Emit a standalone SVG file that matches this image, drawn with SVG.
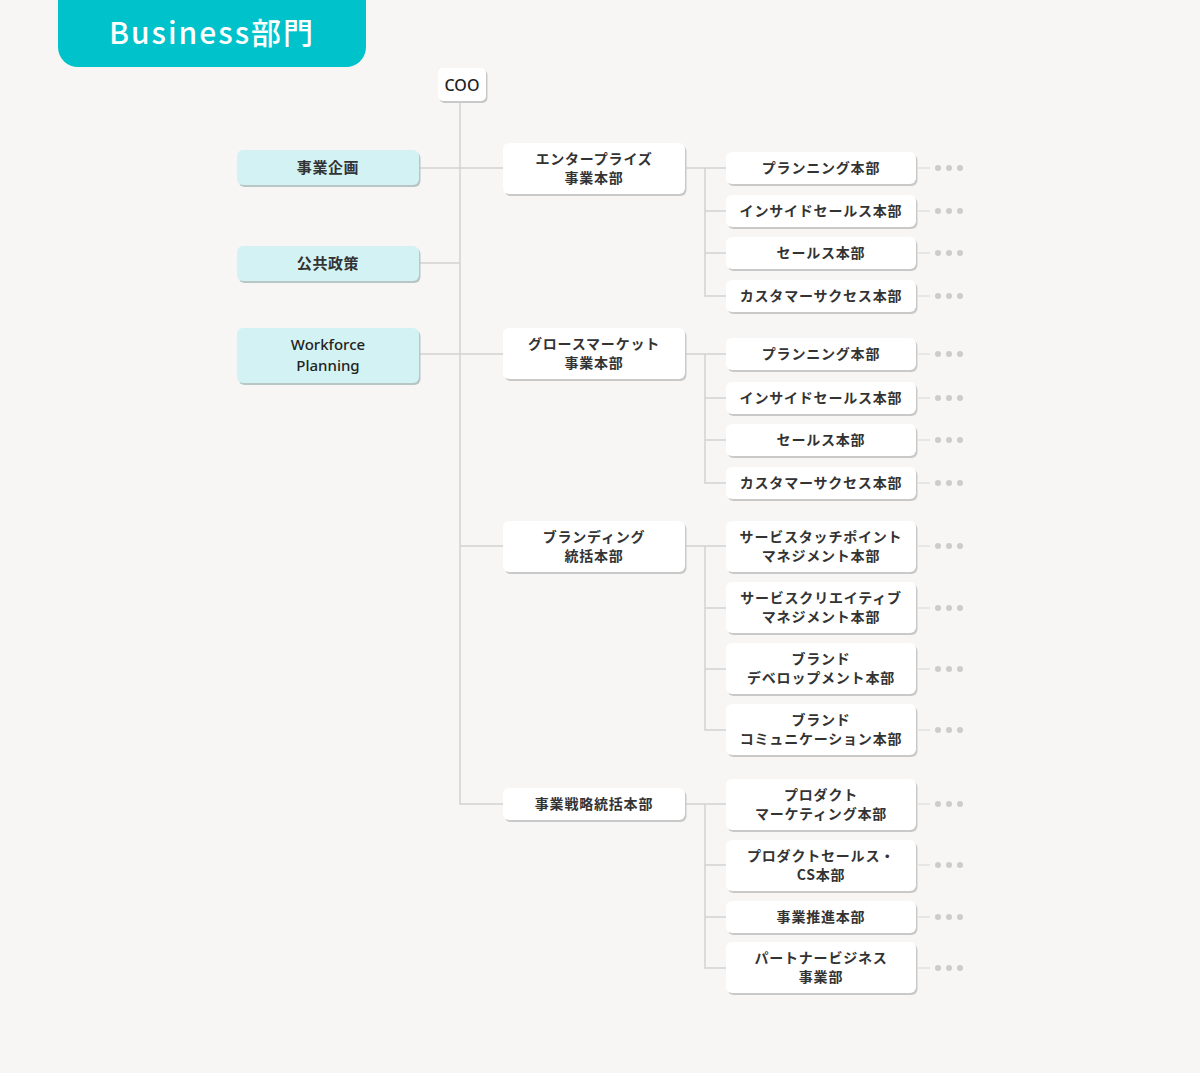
<svg xmlns="http://www.w3.org/2000/svg" width="1200" height="1073" viewBox="0 0 1200 1073">
<style>
.bg{fill:#F7F6F4}
.hdr{fill:#00C2CB}
.ht{font-family:"Noto Sans CJK JP","Noto Sans",sans-serif;font-size:30px;font-weight:500;fill:#ffffff;letter-spacing:2px}
.sh{fill:#c9c9c9}
.shc{fill:#b9c6c6}
.w{fill:#ffffff}
.c{fill:#D3F2F3}
.t{font-family:"Noto Sans CJK JP","Noto Sans",sans-serif;font-size:14px;font-weight:700;fill:#333333;letter-spacing:0.8px;text-anchor:middle}
.tl{font-family:"Noto Sans CJK JP","Noto Sans",sans-serif;font-size:15px;font-weight:700;fill:#333333;letter-spacing:0.6px;text-anchor:middle}
.tw{font-family:"Noto Sans","Noto Sans CJK JP",sans-serif;font-size:16px;font-weight:500;fill:#222222;text-anchor:middle}
.tw2{font-family:"Noto Sans","Noto Sans CJK JP",sans-serif;font-size:15px;font-weight:500;fill:#222222;text-anchor:middle}
.ln{stroke:#D2D2D2;stroke-width:1.5;fill:none}
.dl{stroke:#DDDDDD;stroke-width:1.2;fill:none}
.dot{fill:#CCCCCC}
</style>
<defs>
<g id="dots"><line class="dl" x1="918" y1="0" x2="930" y2="0"/><circle class="dot" cx="938" cy="0" r="3"/><circle class="dot" cx="949" cy="0" r="3"/><circle class="dot" cx="960" cy="0" r="3"/></g>
</defs>
<rect class="bg" x="0" y="0" width="1200" height="1073"/>
<g id="header">
<path class="hdr" d="M58 0 H366 V47 A20 20 0 0 1 346 67 H78 A20 20 0 0 1 58 47 Z"/>
<text class="ht" x="212" y="44" text-anchor="middle">Business部門</text>
</g>
<g id="connectors">
<path class="ln" d="M460 101 V804 H503"/>
<path class="ln" d="M419 168 H503"/>
<path class="ln" d="M419 263 H460"/>
<path class="ln" d="M419 354 H503"/>
<path class="ln" d="M460 546 H503"/>
<path class="ln" d="M685 168 H726 M705 168 V296 H726 M705 211 H726 M705 253 H726"/>
<path class="ln" d="M685 354 H726 M705 354 V483 H726 M705 398 H726 M705 440 H726"/>
<path class="ln" d="M685 546 H726 M705 546 V730 H726 M705 608 H726 M705 669 H726"/>
<path class="ln" d="M685 804 H726 M705 804 V968 H726 M705 865 H726 M705 917 H726"/>
<use href="#dots" y="168"/><use href="#dots" y="211"/><use href="#dots" y="253"/><use href="#dots" y="296"/>
<use href="#dots" y="354"/><use href="#dots" y="398"/><use href="#dots" y="440"/><use href="#dots" y="483"/>
<use href="#dots" y="546"/><use href="#dots" y="608"/><use href="#dots" y="669"/><use href="#dots" y="730"/>
<use href="#dots" y="804"/><use href="#dots" y="865"/><use href="#dots" y="917"/><use href="#dots" y="968"/>
</g>
<g id="coo"><rect class="sh" x="439.5" y="70" width="48" height="33" rx="5"/><rect class="w" x="438" y="68" width="48" height="33" rx="5"/><text class="tw" x="462" y="90.5">COO</text></g>
<g id="jigyo-kikaku"><rect class="shc" x="238.5" y="152" width="182" height="35" rx="6"/><rect class="c" x="237" y="150" width="182" height="35" rx="6"/><text class="tl" x="328" y="173">事業企画</text></g>
<g id="kokyo-seisaku"><rect class="shc" x="238.5" y="248" width="182" height="35" rx="6"/><rect class="c" x="237" y="246" width="182" height="35" rx="6"/><text class="tl" x="328" y="269">公共政策</text></g>
<g id="workforce"><rect class="shc" x="238.5" y="330" width="182" height="55" rx="6"/><rect class="c" x="237" y="328" width="182" height="55" rx="6"/><text class="tw2" x="328" y="350">Workforce</text><text class="tw2" x="328" y="370.5">Planning</text></g>

<g id="enterprise"><rect class="sh" x="504.5" y="145" width="182" height="51" rx="6"/><rect class="w" x="503" y="143" width="182" height="51" rx="6"/><text class="t" x="594" y="164">エンタープライズ</text><text class="t" x="594" y="183">事業本部</text></g>
<g id="growth"><rect class="sh" x="504.5" y="330" width="182" height="51" rx="6"/><rect class="w" x="503" y="328" width="182" height="51" rx="6"/><text class="t" x="594" y="349">グロースマーケット</text><text class="t" x="594" y="368">事業本部</text></g>
<g id="branding"><rect class="sh" x="504.5" y="523" width="182" height="51" rx="6"/><rect class="w" x="503" y="521" width="182" height="51" rx="6"/><text class="t" x="594" y="542">ブランディング</text><text class="t" x="594" y="561">統括本部</text></g>
<g id="strategy"><rect class="sh" x="504.5" y="790" width="182" height="32" rx="6"/><rect class="w" x="503" y="788" width="182" height="32" rx="6"/><text class="t" x="594" y="809">事業戦略統括本部</text></g>

<g id="e1"><rect class="sh" x="727.5" y="154" width="190" height="32" rx="6"/><rect class="w" x="726" y="152" width="190" height="32" rx="6"/><text class="t" x="821" y="173">プランニング本部</text></g>
<g id="e2"><rect class="sh" x="727.5" y="197" width="190" height="32" rx="6"/><rect class="w" x="726" y="195" width="190" height="32" rx="6"/><text class="t" x="821" y="216">インサイドセールス本部</text></g>
<g id="e3"><rect class="sh" x="727.5" y="239" width="190" height="32" rx="6"/><rect class="w" x="726" y="237" width="190" height="32" rx="6"/><text class="t" x="821" y="258">セールス本部</text></g>
<g id="e4"><rect class="sh" x="727.5" y="282" width="190" height="32" rx="6"/><rect class="w" x="726" y="280" width="190" height="32" rx="6"/><text class="t" x="821" y="301">カスタマーサクセス本部</text></g>

<g id="g1"><rect class="sh" x="727.5" y="340" width="190" height="32" rx="6"/><rect class="w" x="726" y="338" width="190" height="32" rx="6"/><text class="t" x="821" y="359">プランニング本部</text></g>
<g id="g2"><rect class="sh" x="727.5" y="384" width="190" height="32" rx="6"/><rect class="w" x="726" y="382" width="190" height="32" rx="6"/><text class="t" x="821" y="403">インサイドセールス本部</text></g>
<g id="g3"><rect class="sh" x="727.5" y="426" width="190" height="32" rx="6"/><rect class="w" x="726" y="424" width="190" height="32" rx="6"/><text class="t" x="821" y="445">セールス本部</text></g>
<g id="g4"><rect class="sh" x="727.5" y="469" width="190" height="32" rx="6"/><rect class="w" x="726" y="467" width="190" height="32" rx="6"/><text class="t" x="821" y="488">カスタマーサクセス本部</text></g>

<g id="b1"><rect class="sh" x="727.5" y="523" width="190" height="51" rx="6"/><rect class="w" x="726" y="521" width="190" height="51" rx="6"/><text class="t" x="821" y="542">サービスタッチポイント</text><text class="t" x="821" y="561">マネジメント本部</text></g>
<g id="b2"><rect class="sh" x="727.5" y="584" width="190" height="51" rx="6"/><rect class="w" x="726" y="582" width="190" height="51" rx="6"/><text class="t" x="821" y="603">サービスクリエイティブ</text><text class="t" x="821" y="622">マネジメント本部</text></g>
<g id="b3"><rect class="sh" x="727.5" y="645" width="190" height="51" rx="6"/><rect class="w" x="726" y="643" width="190" height="51" rx="6"/><text class="t" x="821" y="664">ブランド</text><text class="t" x="821" y="683">デベロップメント本部</text></g>
<g id="b4"><rect class="sh" x="727.5" y="706" width="190" height="51" rx="6"/><rect class="w" x="726" y="704" width="190" height="51" rx="6"/><text class="t" x="821" y="725">ブランド</text><text class="t" x="821" y="744">コミュニケーション本部</text></g>

<g id="s1"><rect class="sh" x="727.5" y="781" width="190" height="51" rx="6"/><rect class="w" x="726" y="779" width="190" height="51" rx="6"/><text class="t" x="821" y="800">プロダクト</text><text class="t" x="821" y="819">マーケティング本部</text></g>
<g id="s2"><rect class="sh" x="727.5" y="842" width="190" height="51" rx="6"/><rect class="w" x="726" y="840" width="190" height="51" rx="6"/><text class="t" x="821" y="861">プロダクトセールス・</text><text class="t" x="821" y="880">CS本部</text></g>
<g id="s3"><rect class="sh" x="727.5" y="903" width="190" height="32" rx="6"/><rect class="w" x="726" y="901" width="190" height="32" rx="6"/><text class="t" x="821" y="922">事業推進本部</text></g>
<g id="s4"><rect class="sh" x="727.5" y="944" width="190" height="51" rx="6"/><rect class="w" x="726" y="942" width="190" height="51" rx="6"/><text class="t" x="821" y="963">パートナービジネス</text><text class="t" x="821" y="982">事業部</text></g>
</svg>
